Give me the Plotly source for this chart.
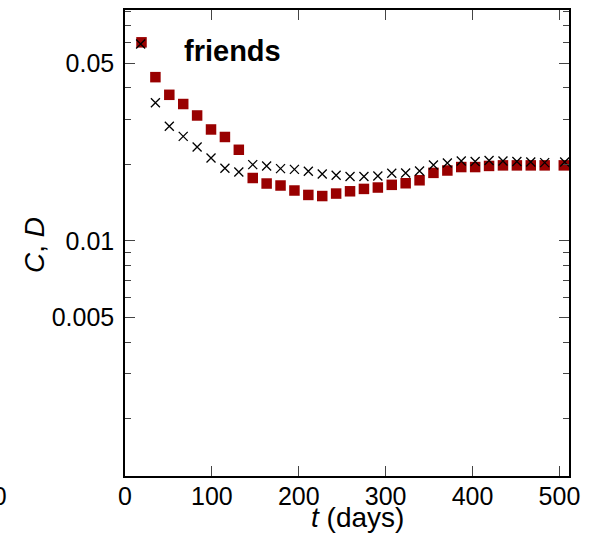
import math
import plotly.graph_objects as go

# time (days)
t_C = [19, 35, 51, 67, 83, 99, 115, 131, 147, 163, 179, 195, 211, 227, 243, 259,
       275, 291, 307, 323, 339, 355, 371, 387, 403, 419, 435, 451, 467, 483, 505]
# C values (red squares)
C_vals = [0.0603, 0.0440, 0.0375, 0.0345, 0.0311, 0.0274, 0.0256, 0.0228, 0.01766,
          0.0168, 0.0165, 0.01577, 0.01515, 0.0150, 0.01534, 0.01566, 0.0160, 0.0162,
          0.0166, 0.01684, 0.0173, 0.0185, 0.0189, 0.0195, 0.0195, 0.0197, 0.0198,
          0.0198, 0.0198, 0.0198, 0.0198]
# D values (black crosses)
t_D = [18, 35, 51, 67, 83, 99, 115, 131, 147, 163, 179, 195, 211, 227, 243, 259,
       275, 291, 307, 323, 339, 355, 371, 387, 403, 419, 435, 451, 467, 483, 506]
D_vals = [0.0594, 0.0349, 0.0282, 0.02574, 0.02337, 0.02117, 0.01928, 0.01865,
          0.01994, 0.01968, 0.01923, 0.0191, 0.01876, 0.01832, 0.0181, 0.01789,
          0.01789, 0.01799, 0.01843, 0.01848, 0.01882, 0.01987, 0.02022, 0.0206,
          0.0205, 0.0207, 0.0206, 0.0205, 0.0204, 0.0203, 0.0204]

x_ticks = [0, 100, 200, 300, 400, 500]
y_ticks = [0.005, 0.01, 0.05]
y_ticktext = ["0.005", "0.01", "0.05"]
y_minor = [0.002, 0.003, 0.004, 0.006, 0.007, 0.008, 0.009,
           0.02, 0.03, 0.04, 0.06, 0.07, 0.08]

FONT = "Liberation Sans, Arial, sans-serif"

fig = go.Figure()
fig.add_trace(go.Scatter(
    x=t_C, y=C_vals, mode="markers", name="C",
    marker=dict(symbol="square", size=10.5, color="#990000", line=dict(width=0)),
    cliponaxis=True,
))
fig.add_trace(go.Scatter(
    x=t_D, y=D_vals, mode="markers", name="D",
    marker=dict(symbol="x-thin", size=9, color="black",
                line=dict(width=1.3, color="black")),
    cliponaxis=True,
))

L, R, T, B = 125, 569, 9.5, 476.5
PW, PH = R - L, B - T

fig.update_layout(
    width=589, height=536,
    margin=dict(l=L, r=589 - R, t=T, b=536 - B, autoexpand=False),
    paper_bgcolor="white", plot_bgcolor="white",
    showlegend=False,
    font=dict(family=FONT, size=25, color="black"),
    xaxis=dict(
        range=[0, 511], tickvals=x_ticks, ticks="inside", ticklen=10,
        tickwidth=1, tickcolor="#444", showline=True, linecolor="black",
        linewidth=1.5, mirror="ticks", showgrid=False, zeroline=False,
        tickfont=dict(size=25, family=FONT), ticklabelstandoff=-3,
    ),
    yaxis=dict(
        type="log", range=[math.log10(0.00119), math.log10(0.0808)],
        tickvals=y_ticks, ticktext=y_ticktext, ticks="inside", ticklen=10,
        tickwidth=1, tickcolor="#444", showline=True, linecolor="black",
        linewidth=1.5, mirror="ticks", showgrid=False, zeroline=False,
        tickfont=dict(size=25, family=FONT), ticklabelstandoff=4,
        minor=dict(tickmode="array", tickvals=y_minor, ticks="inside",
                   ticklen=6, tickwidth=1, tickcolor="#444", showgrid=False),
    ),
    annotations=[
        dict(text="<b>friends</b>", xref="paper", yref="paper",
             x=(182 - L) / PW, y=(B - 51) / PH, xanchor="left",
             yanchor="middle", showarrow=False, font=dict(size=29, family=FONT)),
        dict(text="<i>t</i> (days)", xref="paper", yref="paper",
             x=(357 - L) / PW, y=-(518 - B) / PH, xanchor="center",
             yanchor="middle", showarrow=False, font=dict(size=28, family=FONT)),
        dict(text="<i>C</i>, <i>D</i>", xref="paper", yref="paper",
             x=(35 - L) / PW, y=(B - 245) / PH, xanchor="center",
             yanchor="middle", textangle=-90, showarrow=False,
             font=dict(size=28, family=FONT)),
        dict(text="500", xref="paper", yref="paper",
             x=(9 - L) / PW, y=-(497 - B) / PH, xanchor="right",
             yanchor="middle", showarrow=False, font=dict(size=25, family=FONT)),
    ],
)

fig.write_html("out.html", config={"displayModeBar": False},
               post_script="document.body.style.margin='0';")
